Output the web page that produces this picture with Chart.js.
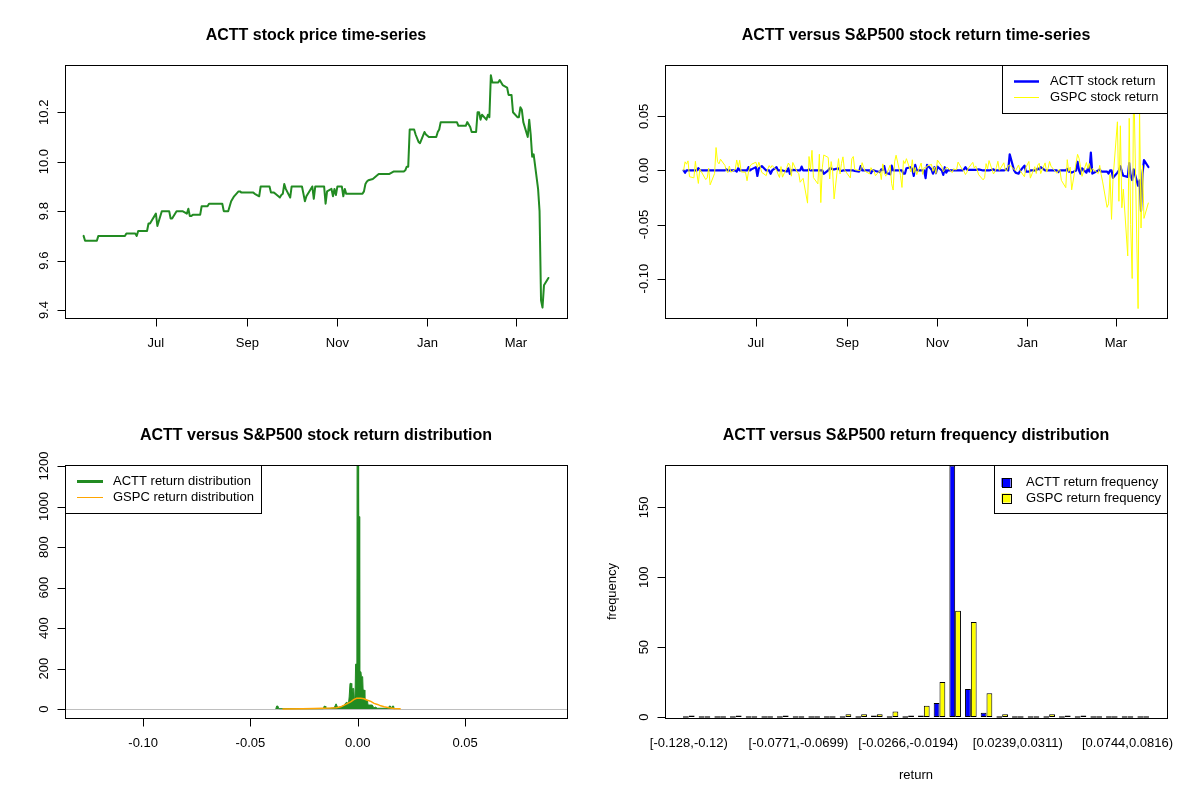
<!DOCTYPE html>
<html>
<head>
<meta charset="utf-8">
<title>ACTT vs S&amp;P500</title>
<script src="https://cdn.jsdelivr.net/npm/chart.js@4.4.1/dist/chart.umd.min.js"></script>
<style>
  html, body { margin: 0; padding: 0; background: #ffffff; }
  #grid { width: 1200px; height: 800px; display: grid; grid-template-columns: 600px 600px; grid-template-rows: 400px 400px; }
  canvas { display: block; }
</style>
</head>
<body>
<div id="grid">
  <canvas id="c1" width="600" height="400"></canvas>
  <canvas id="c2" width="600" height="400"></canvas>
  <canvas id="c3" width="600" height="400"></canvas>
  <canvas id="c4" width="600" height="400"></canvas>
</div>
<script>
// ---------------- DATA ----------------
const dates = [
 '2019-05-13','2019-05-14','2019-05-15','2019-05-16','2019-05-17','2019-05-20','2019-05-21','2019-05-22','2019-05-23','2019-05-24','2019-05-28','2019-05-29','2019-05-30','2019-05-31',
 '2019-06-03','2019-06-04','2019-06-05','2019-06-06','2019-06-07','2019-06-10','2019-06-11','2019-06-12','2019-06-13','2019-06-14','2019-06-17','2019-06-18','2019-06-19','2019-06-20','2019-06-21','2019-06-24','2019-06-25','2019-06-26','2019-06-27','2019-06-28',
 '2019-07-01','2019-07-02','2019-07-03','2019-07-05','2019-07-08','2019-07-09','2019-07-10','2019-07-11','2019-07-12','2019-07-15','2019-07-16','2019-07-17','2019-07-18','2019-07-19','2019-07-22','2019-07-23','2019-07-24','2019-07-25','2019-07-26','2019-07-29','2019-07-30','2019-07-31',
 '2019-08-01','2019-08-02','2019-08-05','2019-08-06','2019-08-07','2019-08-08','2019-08-09','2019-08-12','2019-08-13','2019-08-14','2019-08-15','2019-08-16','2019-08-19','2019-08-20','2019-08-21','2019-08-22','2019-08-23','2019-08-26','2019-08-27','2019-08-28','2019-08-29','2019-08-30',
 '2019-09-03','2019-09-04','2019-09-05','2019-09-06','2019-09-09','2019-09-10','2019-09-11','2019-09-12','2019-09-13','2019-09-16','2019-09-17','2019-09-18','2019-09-19','2019-09-20','2019-09-23','2019-09-24','2019-09-25','2019-09-26','2019-09-27','2019-09-30',
 '2019-10-01','2019-10-02','2019-10-03','2019-10-04','2019-10-07','2019-10-08','2019-10-09','2019-10-10','2019-10-11','2019-10-14','2019-10-15','2019-10-16','2019-10-17','2019-10-18','2019-10-21','2019-10-22','2019-10-23','2019-10-24','2019-10-25','2019-10-28','2019-10-29','2019-10-30','2019-10-31',
 '2019-11-01','2019-11-04','2019-11-05','2019-11-06','2019-11-07','2019-11-08','2019-11-11','2019-11-12','2019-11-13','2019-11-14','2019-11-15','2019-11-18','2019-11-19','2019-11-20','2019-11-21','2019-11-22','2019-11-25','2019-11-26','2019-11-27','2019-11-29',
 '2019-12-02','2019-12-03','2019-12-04','2019-12-05','2019-12-06','2019-12-09','2019-12-10','2019-12-11','2019-12-12','2019-12-13','2019-12-16','2019-12-17','2019-12-18','2019-12-19','2019-12-20','2019-12-23','2019-12-24','2019-12-26','2019-12-27','2019-12-30','2019-12-31',
 '2020-01-02','2020-01-03','2020-01-06','2020-01-07','2020-01-08','2020-01-09','2020-01-10','2020-01-13','2020-01-14','2020-01-15','2020-01-16','2020-01-17','2020-01-21','2020-01-22','2020-01-23','2020-01-24','2020-01-27','2020-01-28','2020-01-29','2020-01-30','2020-01-31',
 '2020-02-03','2020-02-04','2020-02-05','2020-02-06','2020-02-07','2020-02-10','2020-02-11','2020-02-12','2020-02-13','2020-02-14','2020-02-18','2020-02-19','2020-02-20','2020-02-21','2020-02-24','2020-02-25','2020-02-26','2020-02-27','2020-02-28',
 '2020-03-02','2020-03-03','2020-03-04','2020-03-05','2020-03-06','2020-03-09','2020-03-10','2020-03-11','2020-03-12','2020-03-13','2020-03-16','2020-03-17','2020-03-18','2020-03-19','2020-03-20','2020-03-23'
];

const acttPrice = [
 9.70,9.68,9.68,9.68,9.68,9.68,9.68,9.68,9.70,9.70,9.70,9.70,9.70,9.70,
 9.70,9.70,9.70,9.70,9.70,9.70,9.71,9.71,9.71,9.71,9.71,9.70,9.72,9.72,9.72,9.72,9.72,9.75,9.75,9.76,
 9.79,9.74,9.76,9.80,9.80,9.80,9.80,9.77,9.77,9.80,9.80,9.80,9.80,9.80,9.79,9.81,9.78,9.78,9.785,9.785,9.785,9.785,
 9.82,9.82,9.82,9.83,9.83,9.83,9.83,9.83,9.83,9.83,9.83,9.80,9.80,9.82,9.84,9.85,9.86,9.88,9.88,9.875,9.875,9.875,
 9.875,9.875,9.875,9.87,9.86,9.90,9.90,9.90,9.90,9.90,9.875,9.875,9.875,9.87,9.855,9.865,9.87,9.91,9.89,9.855,
 9.90,9.90,9.90,9.90,9.90,9.90,9.87,9.84,9.86,9.89,9.90,9.85,9.90,9.90,9.90,9.90,9.90,9.83,9.88,9.89,9.86,9.89,9.865,
 9.90,9.90,9.86,9.89,9.87,9.87,9.87,9.87,9.87,9.87,9.87,9.87,9.88,9.91,9.92,9.925,9.93,9.935,9.94,9.95,
 9.95,9.95,9.95,9.95,9.95,9.96,9.96,9.96,9.96,9.96,9.96,9.965,9.98,9.98,10.13,10.13,10.11,10.08,10.075,10.12,10.11,
 10.10,10.10,10.10,10.10,10.12,10.13,10.16,10.16,10.16,10.16,10.16,10.16,10.16,10.145,10.145,10.145,10.145,10.16,10.15,10.14,10.12,
 10.12,10.20,10.20,10.17,10.19,10.17,10.19,10.18,10.35,10.32,10.32,10.33,10.32,10.31,10.30,10.27,10.27,10.27,10.20,
 10.18,10.18,10.22,10.21,10.16,10.10,10.17,10.11,10.02,10.03,9.89,9.80,9.44,9.41,9.50,9.53
];

const acttReturn = [
 0,-0.0021,0,0,0,0,0,0,0.0021,0,0,0,0,0,
 0,0,0,0,0,0,0.0010,0,0,0,0,-0.0010,0.0021,0,0,0,0,0.0031,0,0.0010,
 0.0031,-0.0051,0.0020,0.0041,0,0,0,-0.0031,0,0.0031,0,0,0,0,-0.0010,0.0020,-0.0031,0,0.0005,0,0,0,
 0.0036,0,0,0.0010,0,0,0,0,0,0,0,-0.0031,0,0.0020,0.0020,0.0010,0.0010,0.0020,0,-0.0005,0,0,
 0,0,0,-0.0005,-0.0010,0.0040,0,0,0,0,-0.0025,0,0,-0.0005,-0.0015,0.0010,0.0005,0.0040,-0.0020,-0.0035,
 0.0045,0,0,0,0,0,-0.0030,-0.0030,0.0020,0.0030,0.0010,-0.0051,0.0051,0,0,0,0,-0.0071,0.0051,0.0010,-0.0030,0.0030,-0.0025,
 0.0035,0,-0.0041,0.0030,-0.0020,0,0,0,0,0,0,0,0.0010,0.0030,0.0010,0.0005,0.0005,0.0005,0.0005,0.0010,
 0,0,0,0,0,0.0010,0,0,0,0,0,0.0005,0.0015,0,0.0149,0,-0.0020,-0.0030,-0.0005,0.0045,-0.0010,
 -0.0010,0,0,0,0.0020,0.0010,0.0030,0,0,0,0,0,0,-0.0015,0,0,0,0.0015,-0.0010,-0.0010,-0.0020,
 0,0.0079,0,-0.0030,0.0020,-0.0020,0.0020,-0.0010,0.0166,-0.0029,0,0.0010,-0.0010,-0.0010,-0.0010,-0.0029,0,0,-0.0068,
 -0.0020,0,0.0039,-0.0010,-0.0049,-0.0059,0.0069,-0.0059,-0.0089,0.0010,-0.0141,-0.0091,-0.0374,-0.0032,0.0095,0.0032
];

const gspcReturn = [
 0,0.0080,0.0058,0.0089,-0.0058,-0.0068,0.0085,-0.0028,-0.0120,0.0013,-0.0084,-0.0069,0.0021,-0.0133,
 -0.0028,0.0212,0.0081,0.0061,0.0104,0.0047,-0.0003,-0.0020,0.0041,-0.0016,0.0009,0.0097,0.0030,0.0094,-0.0013,-0.0017,-0.0095,-0.0012,0.0038,0.0057,
 0.0076,0.0029,0.0076,-0.0018,-0.0048,0.0012,0.0045,0.0023,0.0046,0.0002,-0.0034,-0.0065,0.0036,-0.0062,0.0028,0.0068,0.0047,-0.0053,0.0074,-0.0016,-0.0026,-0.0109,
 -0.0090,-0.0073,-0.0302,0.0129,0.0008,0.0186,-0.0066,-0.0124,0.0150,-0.0297,0.0025,0.0143,0.0120,-0.0079,0.0082,-0.0005,-0.0263,0.0109,-0.0032,0.0065,0.0126,0.0006,
 -0.0069,0.0108,0.0129,0.0009,-0.0001,0.0003,0.0072,0.0029,-0.0007,-0.0031,0.0026,0.0003,0.0000,-0.0049,-0.0001,-0.0084,0.0061,-0.0024,-0.0053,0.0050,
 -0.0123,-0.0181,0.0079,0.0141,-0.0045,-0.0157,0.0091,0.0064,0.0109,-0.0014,0.0099,-0.0020,0.0028,-0.0039,0.0069,-0.0036,0.0028,0.0019,0.0041,0.0056,-0.0008,0.0032,-0.0030,
 0.0096,0.0037,-0.0012,0.0007,0.0027,0.0026,-0.0020,0.0016,0.0007,0.0008,0.0077,0.0005,-0.0006,-0.0038,-0.0016,0.0022,0.0075,0.0022,0.0042,-0.0040,
 -0.0087,-0.0067,0.0063,0.0015,0.0091,-0.0032,-0.0011,0.0029,0.0085,0.0001,0.0071,0.0003,-0.0004,0.0044,0.0049,0.0009,-0.0002,0.0051,0.0000,-0.0058,0.0029,
 0.0083,-0.0071,0.0035,-0.0028,0.0049,0.0066,-0.0029,0.0070,-0.0015,0.0019,0.0083,0.0039,-0.0027,0.0003,0.0011,-0.0091,-0.0159,0.0100,-0.0009,0.0031,-0.0179,
 0.0072,0.0149,0.0112,0.0033,-0.0054,0.0073,0.0017,0.0064,-0.0016,0.0018,-0.0029,0.0047,-0.0038,-0.0106,-0.0341,-0.0308,-0.0038,-0.0452,-0.0083,
 0.0450,-0.0285,0.0413,-0.0345,-0.0172,-0.0790,0.0482,-0.0501,-0.0999,0.0888,-0.1277,0.0583,-0.0532,0.0047,-0.0443,-0.0298
];

const monthTickDates = ['2019-07-01','2019-09-01','2019-11-01','2020-01-01','2020-03-01'];
const monthTickLabels = ['Jul','Sep','Nov','Jan','Mar'];
const priceTicks = [9.4, 9.6, 9.8, 10.0, 10.2];
const priceTickLabels = ['9.4','9.6','9.8','10.0','10.2'];
const returnTicks = [-0.10, -0.05, 0.00, 0.05];
const returnTickLabels = ['-0.10','-0.05','0.00','0.05'];
const densityTicks = [0, 200, 400, 600, 800, 1000, 1200];
const densityTickLabels = ['0','200','400','600','800','1000','1200'];

// ACTT return distribution
const acttDistX = [-0.0382,-0.0378,-0.0372,-0.0368,-0.0210,-0.0160,-0.0157,-0.0152,-0.0149,-0.0125,-0.0110,-0.0101,-0.0097,-0.0093,-0.0078,-0.0064,-0.0054,-0.0049,-0.0044,-0.0040,-0.0036,-0.0031,-0.0028,-0.0024,-0.0019,-0.0016,-0.0013,-0.0010,-0.0004,-0.0003,0.0003,0.0004,0.0008,0.0009,0.0015,0.0017,0.0023,0.0025,0.0031,0.0033,0.0045,0.0048,0.0068,0.0075,0.0084,0.0090,0.0143,0.0147,0.0152,0.0156,0.0162,0.0167,0.0170];
const acttDistY = [0,15,15,2,2,2,14,14,3,4,6,26,26,7,12,18,33,33,18,60,127,127,75,102,102,55,40,222,222,1250,1250,950,950,184,184,160,160,94,94,44,44,20,20,6,10,4,4,15,15,4,15,15,0];
// GSPC return distribution (smooth orange curve)
const gspcDistX = [-0.0351,-0.0258,-0.0204,-0.0126,-0.0100,-0.0079,-0.0056,-0.0033,-0.0017,-0.0005,0.0014,0.0029,0.0045,0.0061,0.0076,0.0092,0.0107,0.0123,0.0146,0.0169,0.0200];
const gspcDistY = [1,2,3,5,7,11,23,36,48,53,53,51,44,38,28,23,16,12,7,3,2];

// Return frequency histogram (30 bins)
const binLabels = ['[-0.128,-0.12)','[-0.12,-0.113)','[-0.113,-0.106)','[-0.106,-0.0987)','[-0.0987,-0.0915)','[-0.0915,-0.0843)','[-0.0843,-0.0771)','[-0.0771,-0.0699)','[-0.0699,-0.0627)','[-0.0627,-0.0555)','[-0.0555,-0.0482)','[-0.0482,-0.041)','[-0.041,-0.0338)','[-0.0338,-0.0266)','[-0.0266,-0.0194)','[-0.0194,-0.0122)','[-0.0122,-0.00496)','[-0.00496,0.00225)','[0.00225,0.00946)','[0.00946,0.0167)','[0.0167,0.0239)','[0.0239,0.0311)','[0.0311,0.0383)','[0.0383,0.0455)','[0.0455,0.0527)','[0.0527,0.06)','[0.06,0.0672)','[0.0672,0.0744)','[0.0744,0.0816)','[0.0816,0.0888]'];
const acttFreq = [0,0,0,0,0,0,0,0,0,0,0,0,1,0,0,1,10,180,20,3,0,0,0,0,0,0,0,0,0,0];
const gspcFreq = [1,0,0,1,0,0,1,0,0,0,2,2,2,4,1,8,25,76,68,17,2,0,0,2,1,1,0,0,0,0];
const shownBinIdx = [0, 7, 14, 21, 28];
const freqTicks = [0, 50, 100, 150];
const freqTickLabels = ['0','50','100','150'];

// ---------------- HELPERS ----------------
const FONT = "'Liberation Sans', Arial, Helvetica, sans-serif";
const ORIGIN = Date.parse('2019-07-01T00:00:00Z');
function dayNum(d) { return (Date.parse(d + 'T00:00:00Z') - ORIGIN) / 86400000; }
const PAD = { left: 65, right: 33, top: 65, bottom: 82 };

function drawLegend(ctx, lg) {
  ctx.save();
  ctx.fillStyle = '#ffffff';
  ctx.fillRect(lg.x0, lg.y0, lg.x1 - lg.x0, lg.y1 - lg.y0);
  ctx.strokeStyle = '#000'; ctx.lineWidth = 1;
  ctx.strokeRect(Math.round(lg.x0) + 0.5, Math.round(lg.y0) + 0.5, Math.round(lg.x1 - lg.x0), Math.round(lg.y1 - lg.y0));
  ctx.font = '13px ' + FONT; ctx.textAlign = 'left'; ctx.textBaseline = 'middle';
  lg.items.forEach(it => {
    if (it.kind === 'line') {
      ctx.strokeStyle = it.color; ctx.lineWidth = it.width; ctx.lineCap = 'butt';
      ctx.beginPath(); ctx.moveTo(lg.sx0, it.y); ctx.lineTo(lg.sx1, it.y); ctx.stroke();
    } else {
      const s = 9, cx = (lg.sx0 + lg.sx1) / 2;
      ctx.fillStyle = it.color; ctx.fillRect(cx - s / 2, it.y - s / 2, s, s);
      ctx.strokeStyle = '#000'; ctx.lineWidth = 1;
      ctx.strokeRect(Math.round(cx - s / 2) + 0.5, Math.round(it.y - s / 2) + 0.5, s, s);
    }
    ctx.fillStyle = '#000';
    ctx.fillText(it.text, lg.tx, it.y);
  });
  ctx.restore();
}

function rFrame(cfg) {
  return {
    id: 'rFrame',
    beforeDatasetsDraw(chart) {
      if (cfg.hline === undefined) return;
      const ctx = chart.ctx, a = chart.chartArea, ys = chart.scales.y;
      const py = Math.round(ys.getPixelForValue(cfg.hline)) + 0.5;
      ctx.save();
      ctx.strokeStyle = '#BEBEBE'; ctx.lineWidth = 1.2;
      ctx.beginPath(); ctx.moveTo(a.left, py); ctx.lineTo(a.right, py); ctx.stroke();
      ctx.restore();
    },
    afterDraw(chart) {
      const ctx = chart.ctx, a = chart.chartArea, xs = chart.scales.x, ys = chart.scales.y;
      ctx.save();
      if (cfg.legend) drawLegend(ctx, cfg.legend);
      const L = Math.round(a.left) + 0.5, T = Math.round(a.top) + 0.5;
      const R = Math.round(a.right) + 0.5, B = Math.round(a.bottom) + 0.5;
      ctx.strokeStyle = '#000'; ctx.lineWidth = 1;
      ctx.strokeRect(L, T, R - L, B - T);
      ctx.fillStyle = '#000';
      ctx.font = 'bold 16px ' + FONT; ctx.textAlign = 'center'; ctx.textBaseline = 'alphabetic';
      ctx.fillText(cfg.title, (a.left + a.right) / 2, 40);
      ctx.font = '13px ' + FONT;
      cfg.xTicks.forEach((v, i) => {
        const x = xs.getPixelForValue(v);
        if (cfg.xTickMarks !== false) {
          const px = Math.round(x) + 0.5;
          ctx.beginPath(); ctx.moveTo(px, B); ctx.lineTo(px, B + 8); ctx.stroke();
        }
        ctx.fillText(cfg.xLabels[i], x, a.bottom + 29);
      });
      cfg.yTicks.forEach((v, i) => {
        const y = ys.getPixelForValue(v);
        const py = Math.round(y) + 0.5;
        ctx.beginPath(); ctx.moveTo(L - 8, py); ctx.lineTo(L, py); ctx.stroke();
        ctx.save(); ctx.translate(a.left - 17.5, y); ctx.rotate(-Math.PI / 2);
        ctx.fillText(cfg.yLabels[i], 0, 0); ctx.restore();
      });
      if (cfg.xTitle) ctx.fillText(cfg.xTitle, (a.left + a.right) / 2, a.bottom + 61);
      if (cfg.yTitle) {
        ctx.save(); ctx.translate(a.left - 49, (a.top + a.bottom) / 2); ctx.rotate(-Math.PI / 2);
        ctx.fillText(cfg.yTitle, 0, 0); ctx.restore();
      }
      ctx.restore();
    }
  };
}

function baseOptions(xMin, xMax, yMin, yMax) {
  return {
    responsive: false, animation: false, events: [],
    layout: { padding: PAD },
    plugins: { legend: { display: false }, title: { display: false }, tooltip: { enabled: false } },
    scales: {
      x: { type: 'linear', display: false, offset: false, min: xMin, max: xMax, grid: { offset: false } },
      y: { type: 'linear', display: false, min: yMin, max: yMax }
    }
  };
}

const monthTickDays = monthTickDates.map(dayNum);

// ---------------- PANEL 1 ----------------
new Chart(document.getElementById('c1'), {
  type: 'line',
  data: { datasets: [{
    data: dates.map((d, i) => ({ x: dayNum(d), y: acttPrice[i] })),
    borderColor: '#228B22', borderWidth: 2, pointRadius: 0, tension: 0, fill: false,
    borderJoinStyle: 'round', borderCapStyle: 'round'
  }] },
  options: baseOptions(-61.6, 278.6, 9.368, 10.391),
  plugins: [rFrame({
    title: 'ACTT stock price time-series',
    xTicks: monthTickDays, xLabels: monthTickLabels,
    yTicks: priceTicks, yLabels: priceTickLabels
  })]
});

// ---------------- PANEL 2 ----------------
new Chart(document.getElementById('c2'), {
  type: 'line',
  data: { datasets: [
    { data: dates.map((d, i) => ({ x: dayNum(d), y: acttReturn[i] })),
      borderColor: '#0000FF', borderWidth: 2.2, pointRadius: 0, tension: 0, fill: false, order: 2,
      borderJoinStyle: 'round', borderCapStyle: 'round' },
    { data: dates.map((d, i) => ({ x: dayNum(d), y: gspcReturn[i] })),
      borderColor: '#FFFF00', borderWidth: 1, pointRadius: 0, tension: 0, fill: false, order: 1 }
  ] },
  options: baseOptions(-61.6, 278.6, -0.1364, 0.0975),
  plugins: [rFrame({
    title: 'ACTT versus S&P500 stock return time-series',
    xTicks: monthTickDays, xLabels: monthTickLabels,
    yTicks: returnTicks, yLabels: returnTickLabels,
    legend: { x0: 402, y0: 65, x1: 567, y1: 113, sx0: 414, sx1: 439, tx: 450,
      items: [
        { kind: 'line', color: '#0000FF', width: 2.5, y: 81.5, text: 'ACTT stock return' },
        { kind: 'line', color: '#FFFF00', width: 1, y: 97.5, text: 'GSPC stock return' }
      ] }
  })]
});

// ---------------- PANEL 3 ----------------
new Chart(document.getElementById('c3'), {
  type: 'line',
  data: { datasets: [
    { data: acttDistX.map((x, i) => ({ x: x, y: acttDistY[i] })),
      borderColor: '#228B22', backgroundColor: '#228B22', borderWidth: 1, pointRadius: 0, tension: 0,
      fill: 'origin', order: 2 },
    { data: gspcDistX.map((x, i) => ({ x: x, y: gspcDistY[i] })),
      borderColor: '#FFA500', borderWidth: 1.5, pointRadius: 0, tension: 0, fill: false, order: 1 }
  ] },
  options: baseOptions(-0.1364, 0.0975, -44, 1205),
  plugins: [rFrame({
    title: 'ACTT versus S&P500 stock return distribution',
    xTicks: returnTicks, xLabels: returnTickLabels,
    yTicks: densityTicks, yLabels: densityTickLabels,
    hline: 0,
    legend: { x0: 65, y0: 65, x1: 261, y1: 113, sx0: 77, sx1: 103, tx: 113,
      items: [
        { kind: 'line', color: '#228B22', width: 3, y: 81.5, text: 'ACTT return distribution' },
        { kind: 'line', color: '#FFA500', width: 1, y: 97.5, text: 'GSPC return distribution' }
      ] }
  })]
});

// ---------------- PANEL 4 ----------------
new Chart(document.getElementById('c4'), {
  type: 'bar',
  data: { datasets: [
    { data: acttFreq.map((v, i) => ({ x: i, y: v })), backgroundColor: '#0000FF',
      borderColor: '#000', borderWidth: 1, borderSkipped: false, minBarLength: 1.5,
      categoryPercentage: 0.74, barPercentage: 1 },
    { data: gspcFreq.map((v, i) => ({ x: i, y: v })), backgroundColor: '#FFFF00',
      borderColor: '#000', borderWidth: 1, borderSkipped: false, minBarLength: 1.5,
      categoryPercentage: 0.74, barPercentage: 1 }
  ] },
  options: baseOptions(-1.52, 30.52, -0.7, 180.3),
  plugins: [rFrame({
    title: 'ACTT versus S&P500 return frequency distribution',
    xTicks: shownBinIdx, xLabels: shownBinIdx.map(i => binLabels[i]), xTickMarks: false,
    yTicks: freqTicks, yLabels: freqTickLabels,
    xTitle: 'return', yTitle: 'frequency',
    legend: { x0: 394, y0: 65, x1: 567, y1: 112.5, sx0: 401, sx1: 411, tx: 426,
      items: [
        { kind: 'box', color: '#0000FF', y: 82.5, text: 'ACTT return frequency' },
        { kind: 'box', color: '#FFFF00', y: 98, text: 'GSPC return frequency' }
      ] }
  })]
});
</script>
</body>
</html>
